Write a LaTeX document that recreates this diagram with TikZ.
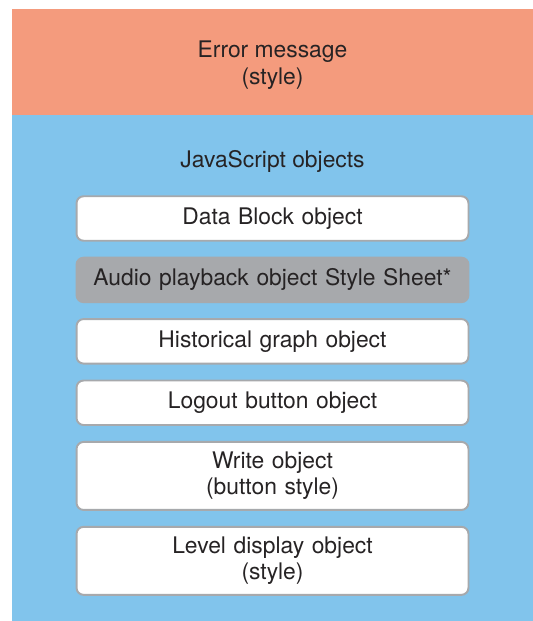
\documentclass[tikz,border=0pt]{standalone}
\usepackage{fontspec}
\setmainfont{TeX Gyre Heros}
\usepackage{xcolor}
\usepackage{tikz}
\usetikzlibrary{positioning}
\definecolor{errsalmon}{HTML}{F49B7D}
\definecolor{jsblue}{HTML}{81C4EC}
\definecolor{boxgray}{HTML}{A7A9AC}
\definecolor{inkdark}{HTML}{262324}
\newcommand{\objfont}{\fontsize{13}{15}\selectfont}

\begin{document}
\begin{tikzpicture}[
  x=0.02cm, y=-0.02cm,
  band/.style={inner sep=0pt, outer sep=0pt, minimum width=10.42cm, anchor=north west},
  caption/.style={font=\objfont, text=inkdark, align=center},
  obj/.style={draw=boxgray, line width=1.1pt, fill=white, rounded corners=4pt,
              minimum width=7.84cm, minimum height=0.89cm, text width=7.6cm,
              align=center, font=\objfont, text=inkdark},
  objtall/.style={obj, minimum height=1.36cm}
]
\useasboundingbox (0,0) rectangle (533,621);
\node[band, fill=errsalmon, minimum height=2.12cm] (err) at (12,9) {};
\node[band, fill=jsblue, minimum height=10.12cm] (js) at (12,115) {};
\node[caption] (errtext) at (272.5,65) {Error message\\(style)};
\node[caption] (jstitle) at (272.5,161) {JavaScript objects};
\node[obj] (datablk) at (272.5,218.5) {Data Block object};
\node[obj, fill=boxgray, below=0.3cm of datablk] (audio) {Audio playback object Style Sheet*};
\node[obj, below=0.3cm of audio] (histgraph) {Historical graph object};
\node[obj, below=0.3cm of histgraph] (logout) {Logout button object};
\node[objtall, below=0.3cm of logout] (writeobj) {Write object\\(button style)};
\node[objtall, below=0.3cm of writeobj] (leveldisp) {Level display object\\(style)};
\end{tikzpicture}
\end{document}
